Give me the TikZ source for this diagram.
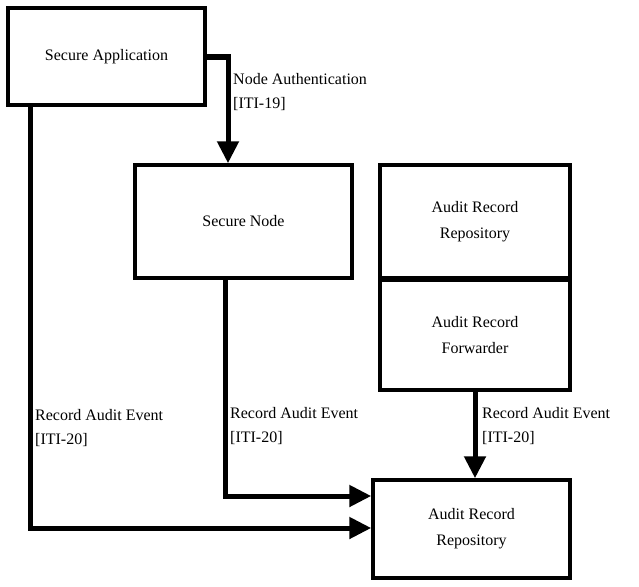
\documentclass[tikz,border=0pt]{standalone}
\usepackage{fontspec}
\setmainfont{Liberation Serif}
\usetikzlibrary{arrows.meta}
\begin{document}
\begin{tikzpicture}[x=1pt,y=-1pt,
 box/.style={draw,line width=3.5pt,minimum width=#1,inner sep=0pt,align=center,font=\fontsize{16}{20}\selectfont},
 lab/.style={anchor=north west,align=left,inner sep=0pt,font=\fontsize{16}{24}\selectfont},
 conn/.style={line width=5pt,-{Triangle[length=22pt,width=21pt]}}]
\useasboundingbox (0,0) rectangle (639,586);
\node[box=197pt,minimum height=97pt] (sa) at (106.5,56.5) {Secure Application};
\node[box=217pt,minimum height=113pt] (sn) at (243.5,221.5) {Secure Node};
\node[box=190pt,minimum height=113pt] (arr) at (475,221.5) {Audit Record\\[6pt]Repository};
\node[box=190pt,minimum height=110pt] (arf) at (475,335) {Audit Record\\[6pt]Forwarder};
\node[box=197pt,minimum height=98pt] (rep) at (471.5,529) {Audit Record\\[6pt]Repository};
\coordinate (c1) at (228,57);
\coordinate (c2) at (30,528);
\coordinate (c3) at (225,496);
\draw[conn] (sa.east|-c1) -- (c1) -- (c1|-sn.north);
\draw[conn] (c2|-sa.south) -- (c2) -- (c2-|rep.west);
\draw[conn] (c3|-sn.south) -- (c3) -- (c3-|rep.west);
\draw[conn] (arf.south) -- (arf.south|-rep.north);
\node[lab] (l1) at (233,73) {Node Authentication\\{[ITI-19]}};
\node[lab] (l2) at (35,409) {Record Audit Event\\{[ITI-20]}};
\node[lab] (l3) at (230,407) {Record Audit Event\\{[ITI-20]}};
\node[lab] (l4) at (482,407) {Record Audit Event\\{[ITI-20]}};
\end{tikzpicture}
\end{document}
